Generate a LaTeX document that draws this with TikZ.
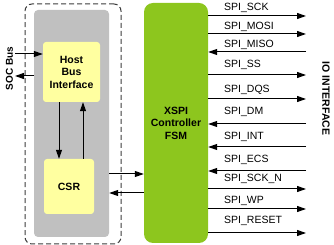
\documentclass[tikz,border=0pt]{standalone}
\usepackage{fontspec}
\setmainfont{Liberation Sans}
\usetikzlibrary{arrows.meta}
\definecolor{fsmgreen}{RGB}{141,198,30}
\definecolor{boxyellow}{RGB}{255,255,160}
\definecolor{boxgrey}{RGB}{192,192,192}
\definecolor{dashgrey}{RGB}{60,60,60}
\tikzset{
  arr/.style={line width=1pt,-{Triangle[length=9pt,width=6pt]}},
  yellowbox/.style={draw=none,fill=boxyellow,rounded corners=3pt,inner sep=0pt,
    font=\fontsize{10.5}{12.5}\selectfont\bfseries,align=center},
  siglabel/.style={anchor=base west,inner sep=0pt,font=\fontsize{10.5}{12}\selectfont},
}
\begin{document}
\begin{tikzpicture}[x=1pt,y=-1pt]
\useasboundingbox (0,0) rectangle (334,245);
% outer dashed box
\node[draw=dashgrey,line width=1pt,dash pattern=on 5pt off 3pt,rounded corners=7pt,
  minimum width=96pt,minimum height=240pt,inner sep=0pt] (outer) at (73,124) {};
% grey box
\node[fill=boxgrey,rounded corners=4pt,minimum width=75pt,minimum height=227pt,inner sep=0pt]
  (grey) at (71.5,123.5) {};
% host bus interface
\node[yellowbox,minimum width=57pt,minimum height=60pt] (host) at (71.5,72) {Host\\Bus\\Interface};
% CSR
\node[yellowbox,minimum width=50pt,minimum height=55pt] (csr) at (69,186.5) {CSR};
% FSM
\node[fill=fsmgreen,rounded corners=9pt,minimum width=64pt,minimum height=240pt,inner sep=0pt,
  align=center,font=\fontsize{10.5}{12.5}\selectfont\bfseries] (fsm) at (176,123) {XSPI\\Controller\\FSM};
% SOC bus
\node[rotate=90,font=\fontsize{10}{12}\selectfont\bfseries,inner sep=0pt] (soc) at (9.5,68.5) {SOC Bus};
\coordinate (socin) at (15,54);
\coordinate (socout) at (15,76);
\draw[arr] (socin) -- (socin -| host.west);
\draw[arr] (socout -| grey.west) -- (socout);
% host <-> csr
\coordinate (hd) at ([xshift=-12.5pt]host.south);
\coordinate (hu) at ([xshift=11.5pt]host.south);
\draw[arr] (hd) -- (hd |- csr.north);
\draw[arr] (hu |- csr.north) -- (hu);
% csr <-> fsm
\coordinate (c1) at (0,174);
\coordinate (c2) at (0,193);
\draw[arr] (c1 -| grey.east) -- (c1 -| fsm.west);
\draw[arr] (c2 -| fsm.west) -- (c2 -| grey.east);
% IO interface
\node[rotate=-90,font=\fontsize{10.5}{12}\selectfont\bfseries,inner sep=0pt] (io) at (326,98.5) {IO INTERFACE};
% signals
\foreach \nm/\ly/\by/\dir [count=\i] in {SPI\_SCK/16/11/o, SPI\_MOSI/34/30/o, SPI\_MISO/52/47.5/i,
   SPI\_SS/75/67.5/o, SPI\_DQS/99/92.5/o, SPI\_DM/124/114.5/i, SPI\_INT/147/140/i,
   SPI\_ECS/171/163/i, SPI\_SCK\_N/189/182/o, SPI\_WP/209/204/o, SPI\_RESET/233/224/o}{
  \coordinate (s\i) at (306,\ly);
  \node[siglabel] (l\i) at (224,\by) {\nm};
  \if o\dir
    \draw[arr] (s\i -| fsm.east) -- (s\i);
  \else
    \draw[arr] (s\i) -- (s\i -| fsm.east);
  \fi
}
\end{tikzpicture}
\end{document}
